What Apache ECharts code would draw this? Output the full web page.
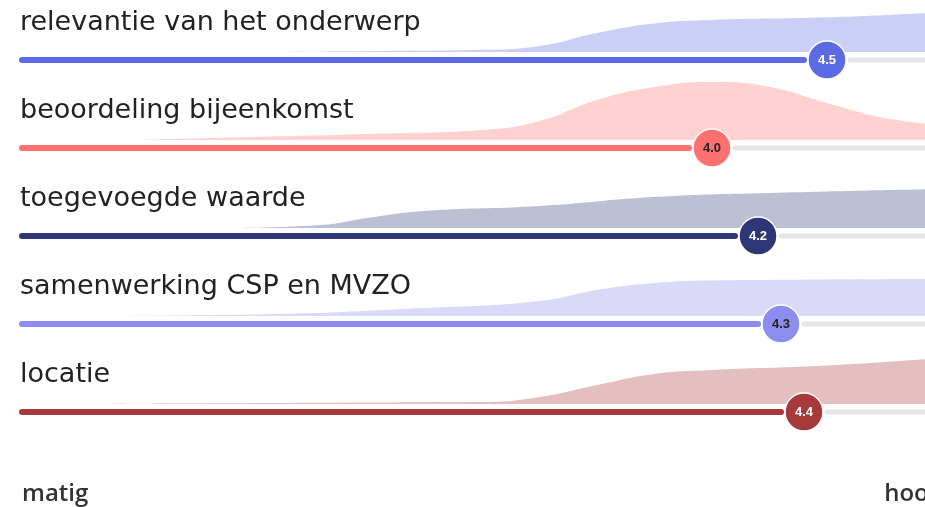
<!DOCTYPE html>
<html>
<head>
<meta charset="utf-8">
<script src="https://cdn.jsdelivr.net/npm/echarts@6/dist/echarts.min.js"></script>
<style>
  html, body { margin: 0; padding: 0; background: #fff; overflow: hidden; }
  /* the plot runs a little past the right edge of the window, as in the original */
  #chart { width: 945px; height: 507px; }
</style>
</head>
<body>
<div id="chart"></div>
<script>
// rows, top to bottom
const categories = ['relevantie van het onderwerp', 'beoordeling bijeenkomst', 'toegevoegde waarde', 'samenwerking CSP en MVZO', 'locatie'];
const scores = [4.5, 4.0, 4.2, 4.3, 4.4];
const scaleLabels = ['matig', 'hoog'];

// distribution shape per row: [score, density]
const densityRelevantie = [[2.0, 0], [2.5, 1], [3.0, 2.5], [3.25, 7], [3.5, 22], [3.75, 33], [4.0, 37], [4.5, 40], [5.0, 46]];
const densityBeoordeling = [[1.5, 0], [2.0, 3], [2.5, 6], [3.0, 10], [3.25, 19], [3.5, 40], [3.75, 53], [4.0, 58], [4.25, 53], [4.5, 37], [4.75, 22], [5.0, 15]];
const densityWaarde = [[1.9, 0], [2.3, 3], [2.5, 10], [2.75, 17], [3.25, 22], [3.75, 31], [4.25, 35], [5.0, 39]];
const densitySamenwerking = [[1.3, 0], [2.0, 1.5], [2.75, 8], [3.25, 15], [3.5, 26], [3.75, 33], [4.0, 35.5], [5.0, 37]];
const densityLocatie = [[1.3, 0], [2.5, 1.5], [3.0, 2], [3.25, 7], [3.5, 19], [3.75, 30], [4.0, 34], [4.5, 38.5], [5.0, 46]];
const densities = [densityRelevantie, densityBeoordeling, densityWaarde, densitySamenwerking, densityLocatie];

const lineColors = ['#5b6be6', '#ff7171', '#2f3675', '#8d8def', '#a8393b'];
const areaColors = ['#cacff5', '#ffd1d1', '#bcc0d4', '#dadaf8', '#e3bfbf'];
const badgeTextColors = ['#fff', '#222', '#fff', '#222', '#fff'];

const chart = echarts.init(document.getElementById('chart'));

const firstLine = 60, rowGap = 88, plotLeft = 22, plotWidth = 920;
const gap = 0.1; // space between bar ends and the badge, in score units

const grid = [], xAxis = [], yAxis = [], series = [], title = [];

categories.forEach((name, i) => {
    const lineY = firstLine + i * rowGap;
    const ga = i * 2, gb = i * 2 + 1;

    grid.push({ left: plotLeft, width: plotWidth, top: lineY - 8 - 60, height: 60 });
    grid.push({ left: plotLeft, width: plotWidth, top: lineY - 20, height: 40 });
    [ga, gb].forEach(g => {
        xAxis.push({ type: 'value', gridIndex: g, min: 1, max: 5, show: false });
    });
    yAxis.push({ type: 'value', gridIndex: ga, min: 0, max: 60, show: false });
    yAxis.push({ type: 'value', gridIndex: gb, min: -1, max: 1, show: false });

    title.push({
        text: name, left: 20, top: lineY - 51, padding: 0,
        textStyle: { fontFamily: 'DejaVu Sans', fontSize: 27, fontWeight: 'normal', color: '#222' }
    });

    series.push({
        type: 'line', xAxisIndex: ga, yAxisIndex: ga, data: densities[i],
        smooth: 0.5, symbol: 'none', silent: true,
        lineStyle: { width: 0 }, areaStyle: { color: areaColors[i], opacity: 1 }
    });
    // grey remainder of the track
    series.push({
        type: 'line', xAxisIndex: gb, yAxisIndex: gb, symbol: 'none', silent: true,
        data: [[scores[i] + gap, 0], [5, 0]],
        lineStyle: { width: 5, color: '#e6e6e6', cap: 'round' }
    });
    // coloured part up to the score
    series.push({
        type: 'line', xAxisIndex: gb, yAxisIndex: gb, symbol: 'none', silent: true,
        data: [[1, 0], [scores[i] - gap, 0]],
        lineStyle: { width: 6, color: lineColors[i], cap: 'round' }
    });
    series.push({
        type: 'scatter', xAxisIndex: gb, yAxisIndex: gb, z: 5,
        data: [[scores[i], 0]], symbolSize: 38,
        itemStyle: { color: lineColors[i], borderColor: '#fff', borderWidth: 1.5, opacity: 1 },
        label: {
            show: true, position: 'inside', formatter: p => p.value[0].toFixed(1),
            fontFamily: 'Liberation Sans', fontSize: 13, fontWeight: 'bold', color: badgeTextColors[i]
        }
    });
});

// bottom scale labels
grid.push({ left: plotLeft, width: plotWidth, top: 470, height: 2 });
xAxis.push({
    type: 'value', gridIndex: 10, min: 1, max: 5, interval: 4,
    axisLine: { show: false }, axisTick: { show: false }, splitLine: { show: false },
    axisLabel: {
        margin: 10, fontFamily: 'Open Sans', fontSize: 24, fontWeight: 600, color: '#333',
        alignMinLabel: 'left', alignMaxLabel: 'right',
        formatter: v => (v === 1 ? scaleLabels[0] : scaleLabels[1])
    }
});
yAxis.push({ type: 'value', gridIndex: 10, show: false });

chart.setOption({
    animation: false,
    title: title,
    grid: grid,
    xAxis: xAxis,
    yAxis: yAxis,
    series: series
});
</script>
</body>
</html>
